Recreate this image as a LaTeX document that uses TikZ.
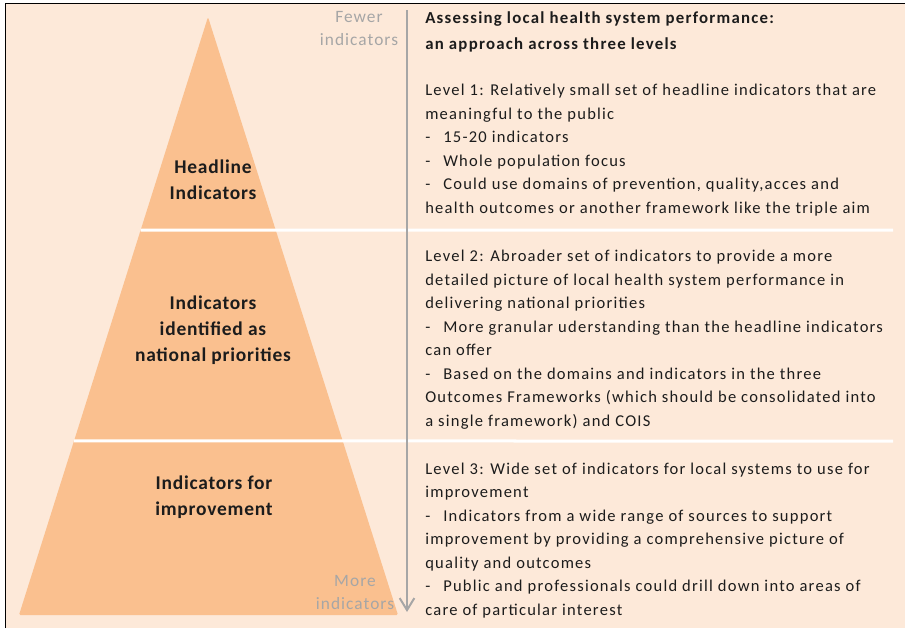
\documentclass[tikz,border=0pt]{standalone}
\usepackage{fontspec}
\setmainfont{Carlito}
\newfontfamily\spacedfont[LetterSpace=7.5]{Carlito}
\newfontfamily\grayfont[LetterSpace=6]{Carlito}
\newfontfamily\lblfont[LetterSpace=4]{Carlito}
\usetikzlibrary{arrows.meta,calc}
\definecolor{bgpeach}{RGB}{253,233,217}
\definecolor{pyr}{RGB}{250,192,143}
\definecolor{axisgray}{RGB}{166,166,166}
\definecolor{txt}{RGB}{28,28,28}
\newcommand{\dashitem}{\makebox[13.5pt][l]{-}}
\begin{document}
\begin{tikzpicture}[x=0.75pt,y=-0.75pt,
  bodytext/.style={font=\spacedfont\fontsize{12.4}{17.6}\selectfont, text=txt, align=left, inner sep=0pt, anchor=base west},
  titletext/.style={bodytext, font=\spacedfont\fontsize{12.6}{19.5}\selectfont\bfseries},
  pyrlabel/.style={font=\lblfont\fontsize{14.6}{19.5}\selectfont\bfseries, text=txt, align=center, inner sep=0pt},
  graylbl/.style={font=\grayfont\fontsize{13}{17.3}\selectfont, text=axisgray, align=center, inner sep=0pt},
  divider/.style={white, line width=2.25pt},
  axisarrow/.style={axisgray, line width=1.5pt, -{Straight Barb[length=9pt,width=11pt,line width=1.5pt]}}]
\useasboundingbox (0,0) rectangle (905,628);
\fill[white] (0,0) rectangle (905,628);
\fill[bgpeach] (5.5,3.5) rectangle (905,628);
\draw[black, line width=1.1pt] (5.5,628) -- (5.5,3.5) -- (905,3.5);
% pyramid
\coordinate (apex) at (208,17);
\coordinate (bl) at (19,615);
\coordinate (br) at (398,615);
\fill[pyr, rounded corners=1pt] (apex) -- (bl) -- (br) -- cycle;
% dividers
\coordinate (s1) at ($(apex)!0.3562!(bl)$);
\coordinate (s2) at ($(apex)!0.7090!(bl)$);
\coordinate (e1) at (893,230);
\coordinate (e2) at (893,441);
\draw[divider] (s1) -- (e1);
\draw[divider] (s2) -- (e2);
% axis arrow
\coordinate (atop) at (407,10);
\coordinate (abot) at (407,612);
\draw[axisarrow] (atop) -- (abot);
\node[graylbl] (fewer) at (359,28.5) {Fewer\\indicators};
\node[graylbl] (more) at (355,592.5) {More\\indicators};
% pyramid labels
\node[pyrlabel] (head) at (213,180) {Headline\\Indicators};
\node[pyrlabel] (natl) at (213,330) {Indicators\\identified as\\national priorities};
\node[pyrlabel] (impr) at (214,497.5) {Indicators for\\improvement};
% right text (anchored at the baseline of the last line)
\node[titletext] (title) at (425,49) {Assessing local health system performance:\\an approach across three levels};
\node[bodytext] (lvl1) at (425,213) {Level 1: Relatively small set of headline indicators that are\\
meaningful to the public\\
\dashitem 15-20 indicators\\
\dashitem Whole population focus\\
\dashitem Could use domains of prevention, quality,acces and\\
health outcomes or another framework like the triple aim};
\node[bodytext] (lvl2) at (425,426) {Level 2: Abroader set of indicators to provide a more\\
detailed picture of local health system performance in\\
delivering national priorities\\
\dashitem More granular uderstanding than the headline indicators\\
can offer\\
\dashitem Based on the domains and indicators in the three\\
Outcomes Frameworks (which should be consolidated into\\
a single framework) and COIS};
\node[bodytext] (lvl3) at (425,615) {Level 3: Wide set of indicators for local systems to use for\\
improvement\\
\dashitem Indicators from a wide range of sources to support\\
improvement by providing a comprehensive picture of\\
quality and outcomes\\
\dashitem Public and professionals could drill down into areas of\\
care of particular interest};
\end{tikzpicture}
\end{document}
